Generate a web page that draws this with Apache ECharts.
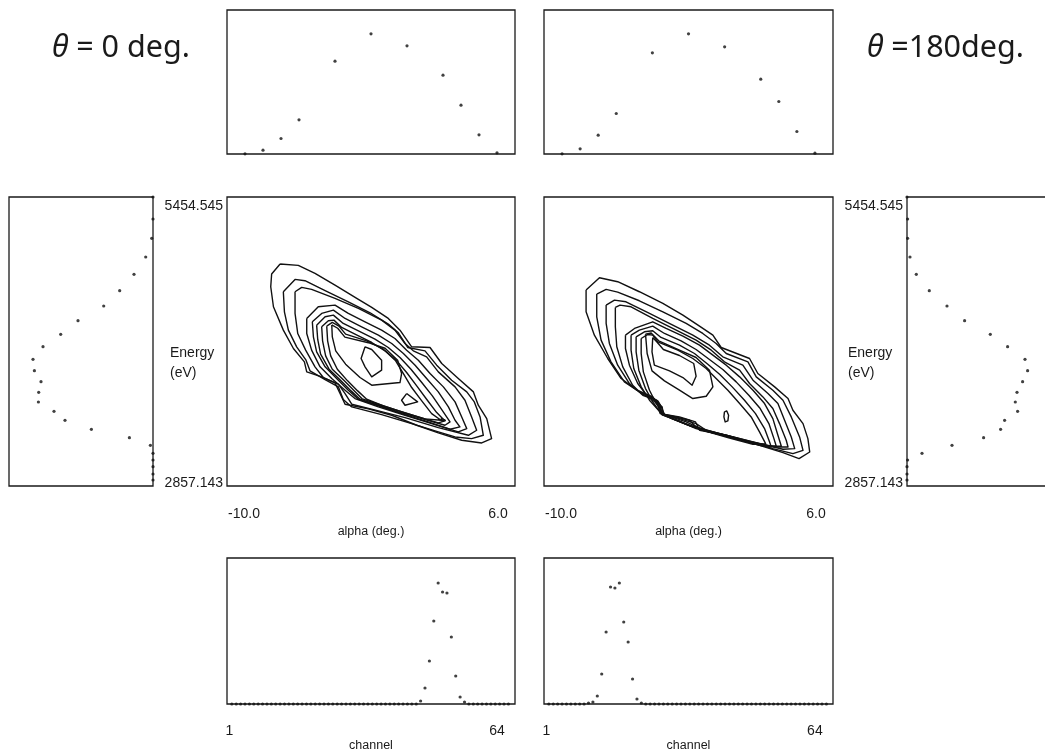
<!DOCTYPE html>
<html><head><meta charset="utf-8">
<script src="https://cdn.jsdelivr.net/npm/echarts@6/dist/echarts.min.js"></script>
<style>html,body{margin:0;padding:0;background:#fff}#c{width:1045px;height:751px}</style>
</head><body><div id="c"></div>
<script>
// ---------- data ----------
const alphaBins = [-9, -8, -7, -6, -4, -2, 0, 2, 3, 4, 5];
const alphaProfile0 = [0.2, 3.8, 15.5, 34.2, 92.8, 120.2, 108.2, 78.8, 48.8, 19.2, 1.2];
const alphaProfile180 = [0.2, 5.2, 18.8, 40.5, 101.2, 120.2, 107.2, 74.8, 52.5, 22.5, 0.8];

const energyBins = [5454.5, 5256.8, 5083.3, 4915.3, 4759.8, 4612.4, 4474.9, 4342.8, 4220.5, 4109.1, 3995.8, 3893.4, 3794.5,
  3699.2, 3612.1, 3528.5, 3447.6, 3366.7, 3291.2, 3222.9, 3151.0, 3090.8, 3030.6, 2965.0, 2911.0];
const energyProfile0 = [0, 0, 1.3, 7.3, 19, 33.3, 49.3, 75, 92.3, 110, 120, 118.6, 112, 114.3, 114.6, 99, 88, 61.6, 23.6, 2.6, 0, 0, 0, 0, 0];
const energyProfile180 = [0, 0.6, 0.6, 3, 9.3, 22.3, 40, 57.6, 83.3, 100.6, 118, 120.6, 115.6, 110, 108.3, 110.6, 97.6, 93.6, 76.6, 45, 15, 0.6, 0, 0, 0];

const channels = [1,2,3,4,5,6,7,8,9,10,11,12,13,14,15,16,17,18,19,20,21,22,23,24,25,26,27,28,29,30,31,32,
  33,34,35,36,37,38,39,40,41,42,43,44,45,46,47,48,49,50,51,52,53,54,55,56,57,58,59,60,61,62,63,64];
const channelCounts0 = [0,0,0,0,0,0,0,0,0,0,0,0,0,0,0,0,0,0,0,0,0,0,0,0,0,0,0,0,0,0,0,0,
  0,0,0,0,0,0,0,0,0,0,0,3,16,43,83,121,112,111,67,28,7,2,0,0,0,0,0,0,0,0,0,0];
const channelCounts180 = [0,0,0,0,0,0,0,0,0,1,2,8,30,72,117,116,121,82,62,25,5,1,0,0,0,0,0,0,0,0,0,0,
  0,0,0,0,0,0,0,0,0,0,0,0,0,0,0,0,0,0,0,0,0,0,0,0,0,0,0,0,0,0,0,0];

const energyTicks = [2857.143, 5454.545];
const alphaTicks = [-10.0, 6.0];
const channelTicks = [1, 64];

// contour lines of the (alpha, energy) maps, [alpha, energy] vertices
const contours0 = [
 [[-7.05,4852],[-6.04,4840],[-5.11,4768],[-4.00,4663],[-2.70,4534],[-1.96,4462],[-1.04,4363],[-0.39,4258],[0.26,4108],[1.28,4102],[1.93,3958],[2.85,3823],[3.69,3703],[3.96,3583],[4.43,3463],[4.70,3283],[4.15,3244],[3.04,3268],[1.74,3334],[0.54,3403],[-0.85,3493],[-2.15,3550],[-3.44,3592],[-3.72,3688],[-4.00,3784],[-4.74,3838],[-5.57,3883],[-5.70,3973],[-6.31,4093],[-6.87,4258],[-7.42,4468],[-7.57,4648],[-7.52,4762]],
 [[-6.87,4603],[-6.22,4714],[-5.67,4702],[-4.55,4612],[-3.26,4513],[-2.05,4414],[-1.04,4312],[-0.48,4234],[0.04,4102],[1.00,4072],[1.65,3943],[2.48,3808],[3.32,3703],[3.74,3613],[4.06,3478],[4.24,3313],[3.59,3283],[2.67,3298],[1.74,3343],[0.26,3418],[-1.41,3499],[-3.07,3568],[-3.54,3634],[-3.81,3748],[-4.55,3814],[-5.39,3892],[-5.61,3988],[-6.13,4108],[-6.59,4258],[-6.81,4423]],
 [[-6.22,4603],[-5.85,4642],[-5.30,4624],[-4.00,4543],[-2.70,4453],[-1.41,4348],[-0.67,4258],[-0.11,4138],[0.35,4072],[1.09,4018],[1.74,3883],[2.67,3748],[3.22,3628],[3.59,3478],[3.87,3358],[3.41,3313],[1.74,3382],[-0.11,3472],[-1.59,3532],[-3.07,3592],[-3.44,3688],[-3.81,3772],[-4.65,3832],[-5.11,3928],[-5.63,4078],[-6.07,4228],[-6.22,4408]],
 [[-5.57,4363],[-4.93,4468],[-4.00,4483],[-3.26,4408],[-2.33,4333],[-1.41,4258],[-0.67,4183],[-0.02,4078],[0.63,3988],[1.28,3868],[2.02,3748],[2.67,3613],[3.04,3478],[3.32,3373],[2.85,3343],[1.37,3418],[-0.11,3493],[-1.59,3568],[-2.89,3643],[-3.44,3718],[-4.18,3823],[-4.83,3928],[-5.30,4078],[-5.57,4228]],
 [[-5.26,4333],[-4.74,4408],[-4.09,4438],[-3.44,4363],[-2.52,4288],[-1.59,4213],[-0.85,4138],[-0.20,4048],[0.45,3943],[1.09,3823],[1.74,3703],[2.30,3568],[2.67,3448],[2.94,3388],[2.39,3367],[1.00,3442],[-0.30,3508],[-1.59,3577],[-2.70,3637],[-3.26,3718],[-3.91,3823],[-4.55,3928],[-5.02,4063],[-5.20,4198]],
 [[-5.02,4303],[-4.55,4378],[-4.09,4393],[-3.54,4318],[-2.70,4252],[-1.78,4177],[-1.04,4102],[-0.39,4012],[0.22,3907],[0.82,3787],[1.41,3667],[1.93,3544],[2.39,3433],[2.11,3403],[0.82,3463],[-0.48,3523],[-1.59,3583],[-2.61,3637],[-3.11,3712],[-3.67,3802],[-4.33,3907],[-4.80,4042],[-4.96,4174]],
 [[-4.74,4288],[-4.37,4342],[-4.06,4348],[-3.63,4282],[-2.89,4222],[-1.96,4147],[-1.22,4072],[-0.57,3982],[-0.02,3877],[0.54,3757],[1.09,3637],[1.65,3517],[2.11,3442],[1.74,3424],[0.63,3478],[-0.57,3538],[-1.59,3592],[-2.48,3640],[-2.92,3712],[-3.48,3802],[-4.15,3907],[-4.52,4027],[-4.69,4162]],
 [[-4.46,4294],[-4.15,4327],[-3.78,4294],[-3.41,4222],[-2.24,4162],[-1.31,4087],[-0.63,3982],[-0.20,3868],[0.26,3742],[0.82,3622],[1.37,3508],[1.89,3448],[1.00,3460],[-0.11,3514],[-1.31,3577],[-2.24,3637],[-2.74,3712],[-3.30,3802],[-3.87,3907],[-4.24,4027],[-4.41,4162]],
 [[-4.18,4305],[-3.85,4275],[-3.45,4195],[-2.15,4145],[-1.22,4095],[-0.52,3988],[-0.30,3868],[-0.39,3787],[-1.96,3763],[-2.61,3832],[-3.41,3952],[-3.96,4072],[-4.15,4198]],
 [[-0.02,3688],[0.59,3613],[-0.11,3583],[-0.30,3628]],
 [[1.90,3466],[2.13,3448],[1.93,3443]],
 [[-2.33,4108],[-1.96,4084],[-1.41,3988],[-1.41,3898],[-1.96,3838],[-2.33,3928],[-2.55,4003]]
];
const contours180 = [
 [[-7.67,4618],[-6.93,4729],[-5.92,4693],[-4.72,4603],[-3.42,4498],[-2.31,4393],[-1.39,4294],[-0.65,4213],[-0.19,4102],[1.38,4003],[1.84,3868],[2.77,3748],[3.51,3643],[3.78,3538],[4.34,3418],[4.61,3283],[4.71,3163],[4.12,3103],[3.23,3157],[1.75,3232],[0.09,3313],[-1.39,3358],[-1.61,3433],[-2.50,3478],[-3.57,3508],[-3.70,3592],[-3.98,3658],[-4.90,3724],[-5.73,3823],[-6.47,4003],[-7.21,4213],[-7.67,4423]],
 [[-7.08,4582],[-6.56,4624],[-5.92,4600],[-4.72,4522],[-3.42,4423],[-2.13,4318],[-1.21,4228],[-0.47,4138],[0.09,4048],[1.29,3973],[1.75,3838],[2.67,3718],[3.23,3628],[3.69,3478],[4.15,3298],[4.34,3178],[3.78,3148],[2.67,3193],[1.20,3262],[-0.28,3328],[-1.58,3388],[-1.95,3448],[-2.87,3484],[-3.52,3508],[-3.65,3592],[-3.89,3643],[-4.72,3703],[-5.55,3793],[-6.29,3973],[-6.84,4168],[-7.08,4378]],
 [[-6.56,4483],[-6.10,4528],[-5.46,4513],[-4.16,4408],[-2.87,4303],[-1.76,4213],[-0.84,4123],[-0.10,4018],[1.01,3943],[1.57,3808],[2.40,3688],[2.95,3598],[3.32,3448],[3.69,3298],[3.88,3193],[3.23,3187],[1.93,3238],[0.46,3298],[-1.02,3358],[-1.58,3418],[-2.50,3463],[-3.46,3502],[-3.57,3583],[-3.76,3628],[-4.62,3688],[-5.27,3778],[-5.92,3943],[-6.38,4138],[-6.56,4318]],
 [[-6.05,4462],[-5.79,4483],[-5.18,4468],[-3.98,4363],[-2.68,4258],[-1.58,4168],[-0.74,4078],[-0.01,3973],[0.83,3898],[1.38,3778],[2.12,3658],[2.67,3553],[3.04,3418],[3.41,3268],[3.51,3208],[2.77,3208],[1.57,3253],[0.09,3313],[-1.21,3364],[-2.13,3433],[-3.33,3499],[-3.52,3574],[-3.70,3622],[-4.53,3673],[-5.09,3763],[-5.64,3928],[-5.97,4108],[-6.05,4288]],
 [[-5.49,4213],[-4.99,4273],[-3.98,4333],[-3.24,4273],[-2.31,4204],[-1.39,4123],[-0.65,4033],[0.09,3943],[0.83,3838],[1.57,3718],[2.21,3598],[2.67,3463],[2.95,3313],[3.14,3214],[2.49,3214],[1.20,3262],[-0.28,3319],[-1.58,3373],[-2.50,3439],[-3.39,3496],[-3.46,3568],[-4.25,3658],[-4.81,3778],[-5.27,3943],[-5.49,4093]],
 [[-5.18,4213],[-4.72,4258],[-3.98,4294],[-3.33,4228],[-2.41,4162],[-1.58,4084],[-0.84,3994],[-0.10,3904],[0.64,3793],[1.34,3673],[1.97,3553],[2.45,3418],[2.73,3283],[2.86,3214],[2.21,3220],[0.83,3274],[-0.65,3334],[-1.85,3394],[-2.78,3454],[-3.42,3496],[-4.16,3628],[-4.62,3748],[-5.03,3913],[-5.18,4078]],
 [[-4.90,4198],[-4.44,4243],[-3.98,4252],[-3.52,4192],[-2.50,4123],[-1.67,4048],[-0.93,3952],[-0.28,3862],[0.42,3748],[1.10,3628],[1.71,3508],[2.21,3373],[2.49,3253],[2.58,3208],[1.93,3223],[0.64,3280],[-0.84,3343],[-1.95,3403],[-2.87,3460],[-3.46,3496],[-3.98,3613],[-4.38,3733],[-4.75,3898],[-4.90,4063]],
 [[-4.62,4183],[-4.25,4219],[-3.98,4213],[-3.70,4153],[-2.59,4078],[-1.76,4003],[-1.02,3913],[-0.47,3823],[0.18,3718],[0.83,3598],[1.47,3478],[1.93,3343],[2.27,3238],[1.57,3232],[0.27,3289],[-1.02,3349],[-2.13,3412],[-2.96,3466],[-3.39,3508],[-3.79,3598],[-4.16,3718],[-4.50,3883],[-4.62,4048]],
 [[-4.38,4222],[-4.07,4232],[-3.65,4162],[-2.50,4078],[-1.58,4012],[-0.84,3898],[-0.65,3748],[-1.02,3664],[-1.76,3643],[-2.50,3718],[-3.33,3802],[-4.02,3892],[-4.29,4048]],
 [[-0.01,3523],[0.12,3532],[0.22,3493],[0.18,3442],[0.03,3433],[-0.04,3478]],
 [[-3.98,4192],[-3.76,4153],[-3.39,4084],[-2.50,4030],[-1.71,3958],[-1.58,3844],[-1.80,3763],[-2.31,3832],[-3.05,3892],[-3.89,3943],[-4.02,4063]]
];

// ---------- chart ----------
const F = '"Liberation Sans", Arial, Helvetica, sans-serif';
const INK = '#111';
const chart = echarts.init(document.getElementById('c'), null, {renderer: 'canvas'});

const gridBoxes = [
  {left: 227, top: 10, width: 288, height: 144},   // 0 alpha profile, theta 0
  {left: 544, top: 10, width: 289, height: 144},   // 1 alpha profile, theta 180
  {left: 9, top: 197, width: 144, height: 289},    // 2 energy profile, theta 0
  {left: 227, top: 197, width: 288, height: 289},  // 3 contour, theta 0
  {left: 544, top: 197, width: 289, height: 289},  // 4 contour, theta 180
  {left: 907, top: 197, width: 144, height: 289},  // 5 energy profile, theta 180
  {left: 227, top: 558, width: 288, height: 146},  // 6 channel, theta 0
  {left: 544, top: 558, width: 289, height: 146}   // 7 channel, theta 180
];
const grid = gridBoxes.map(g => Object.assign({show: true, borderColor: '#1a1a1a', borderWidth: 1.3,
  backgroundColor: 'transparent', containLabel: false, outerBoundsMode: 'none'}, g));

const hidden = (gi, extra) => Object.assign({gridIndex: gi, type: 'value', show: false,
  splitLine: {show: false}}, extra);

function labelled(gi, min, max, ticks, fmt, rich, extra) {
  return Object.assign({
    gridIndex: gi, type: 'value', min, max,
    axisLine: {show: false}, axisTick: {show: false}, splitLine: {show: false},
    axisLabel: {
      customValues: ticks, color: '#1a1a1a', fontSize: 14, fontFamily: F,
      formatter: v => (v === ticks[0] ? '{a|' : '{b|') + fmt(v) + '}',
      rich: {
        a: Object.assign({fontSize: 14, fontFamily: F, color: '#1a1a1a'}, rich[0]),
        b: Object.assign({fontSize: 14, fontFamily: F, color: '#1a1a1a'}, rich[1])
      }
    },
    nameTextStyle: {fontSize: 12.5, fontFamily: F, color: '#1a1a1a'}
  }, extra);
}

const alphaAxis = gi => labelled(gi, -10, 6, alphaTicks, v => v.toFixed(1),
  [{padding: [0, 0, 0, 34]}, {padding: [0, 34, 0, 0]}],
  {name: 'alpha (deg.)', nameLocation: 'middle', nameGap: 39});
const chanAxis = gi => labelled(gi, -0.1, 65.5, channelTicks, v => String(v),
  [{padding: [0, 5, 0, 0]}, {padding: [0, 23, 0, 0]}],
  {name: 'channel', nameLocation: 'middle', nameGap: 31});
const energyAxis = gi => labelled(gi, energyTicks[0], energyTicks[1], energyTicks, v => v.toFixed(3),
  [{padding: [0, 0, 6, 0]}, {padding: [18, 0, 0, 0]}], {position: 'left'});

const xAxis = [
  hidden(0, {min: -10, max: 6}),
  hidden(1, {min: -10, max: 6}),
  hidden(2, {min: 0, max: 144, inverse: true}),
  alphaAxis(3),
  alphaAxis(4),
  hidden(5, {min: 0, max: 144}),
  chanAxis(6),
  chanAxis(7)
];
[3, 4].forEach(i => { xAxis[i].axisLabel.margin = 21; });
[6, 7].forEach(i => { xAxis[i].axisLabel.margin = 20; });

const yAxis = [
  hidden(0, {min: 0, max: 144}),
  hidden(1, {min: 0, max: 144}),
  hidden(2, {min: energyTicks[0], max: energyTicks[1]}),
  energyAxis(3),
  hidden(4, {min: energyTicks[0], max: energyTicks[1]}),
  energyAxis(5),
  hidden(6, {min: 0, max: 146}),
  hidden(7, {min: 0, max: 146})
];
[3, 5].forEach(i => { yAxis[i].axisLabel.margin = 4; });

const series = [];
function dots(ai, data) {
  series.push({type: 'scatter', xAxisIndex: ai, yAxisIndex: ai, data, symbol: 'circle', symbolSize: 3.2,
    itemStyle: {color: INK}, clip: false, silent: true, animation: false});
}
dots(0, alphaBins.map((a, i) => [a, alphaProfile0[i]]));
dots(1, alphaBins.map((a, i) => [a, alphaProfile180[i]]));
dots(2, energyBins.map((e, i) => [energyProfile0[i], e]));
dots(5, energyBins.map((e, i) => [energyProfile180[i], e]));
dots(6, channels.map((c, i) => [c, channelCounts0[i]]));
dots(7, channels.map((c, i) => [c, channelCounts180[i]]));
function contourSet(ai, list) {
  list.forEach(poly => series.push({type: 'line', xAxisIndex: ai, yAxisIndex: ai,
    data: poly.concat([poly[0]]), symbol: 'none', smooth: false,
    lineStyle: {color: INK, width: 1.4, join: 'round'}, silent: true, animation: false}));
}
contourSet(3, contours0);
contourSet(4, contours180);

const titleFont = '"Noto Sans", "Open Sans", sans-serif';
const titleStyle = t => ({text: t, fill: '#1a1a1a', fontSize: 30.5, fontFamily: titleFont, verticalAlign: 'middle',
  rich: {i: {fontStyle: 'italic', fontSize: 30.5, fontFamily: titleFont, fill: '#1a1a1a'}}});
const graphic = [
  {type: 'text', x: 52, y: 48, style: titleStyle('{i|θ} = 0 deg.')},
  {type: 'text', x: 867, y: 48, style: titleStyle('{i|θ} =180deg.')},
  {type: 'text', x: 170, y: 343, style: {text: 'Energy\n(eV)', fill: '#1a1a1a', fontSize: 14, fontFamily: F, lineHeight: 20}},
  {type: 'text', x: 848, y: 343, style: {text: 'Energy\n(eV)', fill: '#1a1a1a', fontSize: 14, fontFamily: F, lineHeight: 20}}
];

chart.setOption({animation: false, backgroundColor: '#fff', grid, xAxis, yAxis, series, graphic});
</script></body></html>
